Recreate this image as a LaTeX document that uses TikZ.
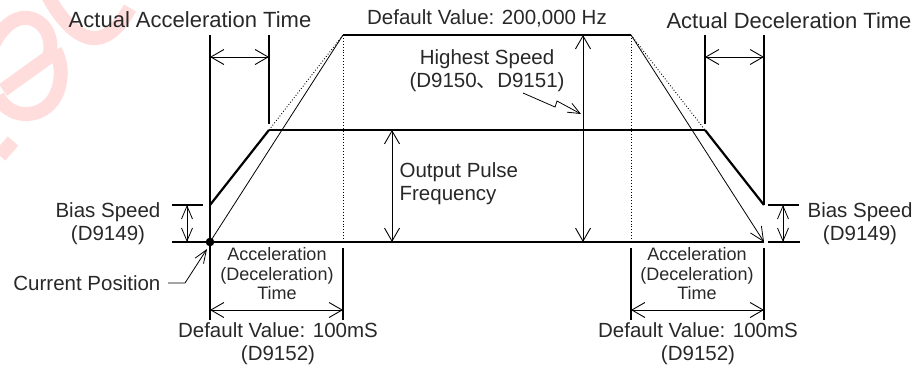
\documentclass[tikz,border=0pt]{standalone}
\usepackage{fontspec}
\setmainfont{Liberation Sans}
\newfontfamily\cjkfont{Noto Sans CJK SC}
\usetikzlibrary{arrows.meta}
\definecolor{inkgray}{RGB}{40,40,40}
\definecolor{markpink}{RGB}{255,221,221}

\begin{document}
\begin{tikzpicture}[x=1pt,y=-1pt,
  line width=1.2pt,
  >={Straight Barb[length=13pt,width=15pt,line width=0.9pt]},
  lbl/.style={inner sep=0pt, text=inkgray, align=center,
              font=\fontsize{20.5}{23}\selectfont},
  wide/.style={lbl, font=\fontsize{22}{24}\selectfont},
  small/.style={inner sep=0pt, text=inkgray, align=center,
              font=\fontsize{18}{19.5}\selectfont},
  ramp/.style={line width=2.2pt},
  guide/.style={line width=0.8pt},
  dotguide/.style={line width=0.9pt, dotted},
  dim/.style={line width=1pt, <->},
  heavy/.style={line width=2.2pt},
  wmark/.style={draw=markpink, line width=14pt}]

\useasboundingbox (0,0) rectangle (913,367);

% faint watermark strokes in the corner
\draw[wmark] (3,90) -- (49,57) .. controls (55,36) and (42,16) .. (22,18)
  .. controls (8,20) and (-4,36) .. (-10,52);
\draw[wmark] (-2,96) .. controls (10,122) and (48,120) .. (58,90)
  .. controls (63,74) and (61,62) .. (55,50);
\draw[wmark] (0,156) -- (13,141);
\draw[wmark] (48,-4) .. controls (62,22) and (80,40) .. (97,38)
  .. controls (112,36) and (122,22) .. (130,8);

% key points of the speed profile
\coordinate (Ltop) at (210,35);
\coordinate (Lbot) at (210,320);
\coordinate (O) at (210,242);
\coordinate (Sl) at (210,205);
\coordinate (Pl) at (269,130);
\coordinate (Pltop) at (269,35);
\coordinate (Pltick) at (269,124);
\coordinate (Tl) at (343,35);
\coordinate (Tr) at (631,35);
\coordinate (Pr) at (705,130);
\coordinate (Prtop) at (705,35);
\coordinate (Prtick) at (705,124);
\coordinate (Rtop) at (764,35);
\coordinate (Sr) at (764,205);
\coordinate (E) at (764,242);

% guide lines and time marks
\draw (Ltop) -- (Lbot);
\draw (Pltop) -- (Pltick);
\draw (Prtop) -- (Prtick);
\draw (Rtop) -- (Sr);
\draw[dim] (Ltop |- 0,57) -- (Pltop |- 0,57);
\draw[dim] (Prtop |- 0,57) -- (Rtop |- 0,57);

% dotted plateau corners
\draw[dotguide] (Tl) -- (Tl |- O);
\draw[dotguide] (Tr) -- (Tr |- O);
\draw[dotguide] (Pl) -- (Tl);
\draw[dotguide] (Tr) -- (Pr);

% default profile (thin) and actual profile (thick)
\draw (Tl) -- (Tr);
\draw[guide] (O) -- (Tl);
\draw[guide, ->, >={Straight Barb[length=14pt,width=13pt,line width=0.8pt]}] (Tr) -- (E);
\draw[ramp] (Sl) -- (Pl);
\draw (Pl) -- (Pr);
\draw[ramp] (Pr) -- (Sr);
\draw (O) -- (E);

% frequency arrows
\draw[dim] (583,35) -- (583,242);
\draw[dim] (392,130) -- (392,242);

% bias speed marks
\draw (172,205) -- (203,205);
\draw (172,242) -- (O);
\draw[dim, >={Straight Barb[length=13pt,width=11pt,line width=0.8pt]}] (187,205) -- (187,242);
\draw (768,205) -- (799,205);
\draw (768,242) -- (800,242);
\draw[dim, >={Straight Barb[length=13pt,width=11pt,line width=0.8pt]}] (783,205) -- (783,242);

% current position
\fill (O) circle (4.3);
\coordinate (cpk) at (185,283);
\draw[guide, ->, >={Straight Barb[length=13pt,width=10pt,line width=0.8pt]}]
  (168,283) -- (cpk) -- (207,249);

% acceleration time spans
\draw[heavy] (343,248) -- (343,320);
\draw[heavy] (631,248) -- (631,320);
\draw[heavy] (764,248) -- (764,320);
\draw[dim] (210,310) -- (343,310);
\draw[dim] (631,310) -- (764,310);

% highest speed pointer
\draw[guide, ->, >={Straight Barb[length=12pt,width=10pt,line width=0.8pt]}]
  (523,93) -- (555,107) -- (557,101) -- (581,114);

% labels
\node[wide] (aat) at (190,20) {Actual Acceleration Time};
\node[lbl] (dvh) at (487,18) {Default Value: 200,000 Hz};
\node[wide] (adt) at (789,21) {Actual Deceleration Time};
\node[lbl] (hs) at (487,71) {Highest Speed\\(D9150{\cjkfont 、}D9151)};
\node[lbl, align=left, anchor=west] (opf) at (399,184) {Output Pulse\\Frequency};
\node[lbl] (bsl) at (108,224) {Bias Speed\\(D9149)};
\node[lbl] (bsr) at (860,224) {Bias Speed\\(D9149)};
\node[lbl, anchor=east] (cp) at (161,283) {Current Position};
\node[small] (atl) at (277,274) {Acceleration\\(Deceleration)\\Time};
\node[small] (atr) at (697,274) {Acceleration\\(Deceleration)\\Time};
\node[lbl] (dvl) at (278,344) {Default Value: 100mS\\(D9152)};
\node[lbl] (dvr) at (698,344) {Default Value: 100mS\\(D9152)};
\end{tikzpicture}
\end{document}
